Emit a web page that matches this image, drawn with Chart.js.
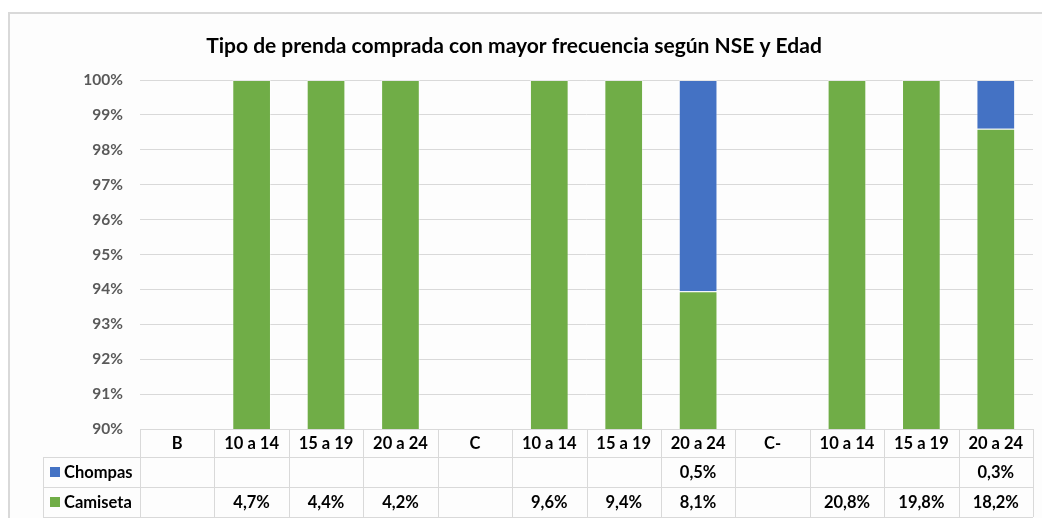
<!DOCTYPE html>
<html>
<head>
<meta charset="utf-8">
<script src="https://cdn.jsdelivr.net/npm/chart.js@4/dist/chart.umd.min.js"></script>
<style>
html,body{margin:0;padding:0;background:#fff;}
#wrap{position:relative;width:1042px;height:518px;}
canvas{display:block;}
</style>
</head>
<body>
<div id="wrap"><canvas id="c" width="1042" height="518"></canvas></div>
<script>
const title = 'Tipo de prenda comprada con mayor frecuencia según NSE y Edad';
const categories = ['B','10 a 14','15 a 19','20 a 24','C','10 a 14','15 a 19','20 a 24','C-','10 a 14','15 a 19','20 a 24'];
// Bar heights (share of stack, %)
const camisetaShare = [null,100,100,100,null,100,100,93.95,null,100,100,98.6];
const chompasShare  = [null,0,0,0,null,0,0,6.05,null,0,0,1.4];
// Values shown in the data table
const chompasTable  = ['','','','','','','','0,5%','','','','0,3%'];
const camisetaTable = ['','4,7%','4,4%','4,2%','','9,6%','9,4%','8,1%','','20,8%','19,8%','18,2%'];
const yTicks = [90,91,92,93,94,95,96,97,98,99,100];

const GREEN = '#70AD47', BLUE = '#4472C4', LINE = '#d9d9d9';
const FONT = 'Lato, "Open Sans", sans-serif';

const tablePlugin = {
  id: 'tablePlugin',
  beforeDraw(chart) {
    const ctx = chart.ctx;
    ctx.save();
    ctx.fillStyle = '#ffffff';
    ctx.fillRect(0,0,chart.width,chart.height);
    ctx.fillStyle = '#fdfdfd';
    ctx.fillRect(9,13,chart.width-9,chart.height-13);
    ctx.strokeStyle = '#d9d9d9';
    ctx.lineWidth = 2;
    ctx.beginPath();
    ctx.moveTo(9, chart.height+2); ctx.lineTo(9, 13); ctx.lineTo(chart.width+2, 13);
    ctx.stroke();
    ctx.restore();
  },
  afterDraw(chart) {
    const ctx = chart.ctx;
    const x = chart.scales.x, ca = chart.chartArea;
    const n = categories.length;
    const colW = (ca.right - ca.left) / n;
    const top = ca.bottom, r1 = x.bottom, r2 = r1 + 30, r3 = r2 + 30;
    const legL = 43;
    ctx.save();
    // title
    ctx.fillStyle = '#000';
    ctx.font = 'bold 21px ' + FONT;
    ctx.textAlign = 'center';
    ctx.textBaseline = 'alphabetic';
    ctx.fillText(title, 514, 53);
    // table lines
    ctx.strokeStyle = LINE;
    ctx.lineWidth = 1;
    ctx.beginPath();
    const h = v => Math.round(v) + 0.5;
    ctx.moveTo(ca.left, h(top)); ctx.lineTo(ca.right, h(top));
    [r1, r2, r3].forEach(yy => { ctx.moveTo(legL, h(yy)); ctx.lineTo(ca.right, h(yy)); });
    for (let i = 0; i <= n; i++) {
      const xx = h(ca.left + i * colW);
      ctx.moveTo(xx, top); ctx.lineTo(xx, r3);
    }
    ctx.moveTo(h(legL), r1); ctx.lineTo(h(legL), r3);
    ctx.stroke();
    // legend keys
    const rows = [[BLUE, 'Chompas', chompasTable, r1], [GREEN, 'Camiseta', camisetaTable, r2]];
    ctx.font = 'bold 16.5px ' + FONT;
    ctx.textBaseline = 'middle';
    rows.forEach(([col, label, vals, y0]) => {
      const cy = y0 + 15;
      ctx.fillStyle = col;
      ctx.fillRect(50, cy - 5, 10, 10);
      ctx.fillStyle = '#000';
      ctx.textAlign = 'left';
      ctx.fillText(label, 64, cy + 1);
      ctx.textAlign = 'center';
      vals.forEach((v, i) => {
        if (v) ctx.fillText(v, x.getPixelForValue(i), cy + 1);
      });
    });
    ctx.restore();
  }
};

new Chart(document.getElementById('c'), {
  type: 'bar',
  data: {
    labels: categories,
    datasets: [
      { label: 'Camiseta', data: camisetaShare, backgroundColor: GREEN, borderColor: 'rgba(255,255,255,0.35)', borderWidth: 1, barPercentage: 0.52, categoryPercentage: 1 },
      { label: 'Chompas', data: chompasShare, backgroundColor: BLUE, borderColor: 'rgba(255,255,255,0.35)', borderWidth: 1, barPercentage: 0.52, categoryPercentage: 1 }
    ]
  },
  options: {
    responsive: false,
    animation: false,
    layout: { padding: { left: 0, right: 9, top: 80, bottom: 61 } },
    plugins: { legend: { display: false }, title: { display: false }, tooltip: { enabled: false } },
    scales: {
      x: {
        stacked: true,
        grid: { display: false, drawTicks: false },
        border: { display: false },
        ticks: { color: '#000', font: { family: FONT, size: 16.5, weight: 'bold' }, padding: 5, maxRotation: 0, autoSkip: false },
        afterFit(s) { s.height = 28; }
      },
      y: {
        stacked: true,
        min: 90, max: 100,
        afterBuildTicks(s) { s.ticks = yTicks.map(v => ({ value: v })); },
        grid: { color: LINE, lineWidth: 1, drawTicks: false },
        border: { display: false },
        ticks: { color: '#595959', font: { family: FONT, size: 15.5, weight: 'bold' }, padding: 17, callback: v => v + '%' },
        afterFit(s) { s.width = 140; }
      }
    }
  },
  plugins: [tablePlugin]
});
</script>
</body>
</html>
